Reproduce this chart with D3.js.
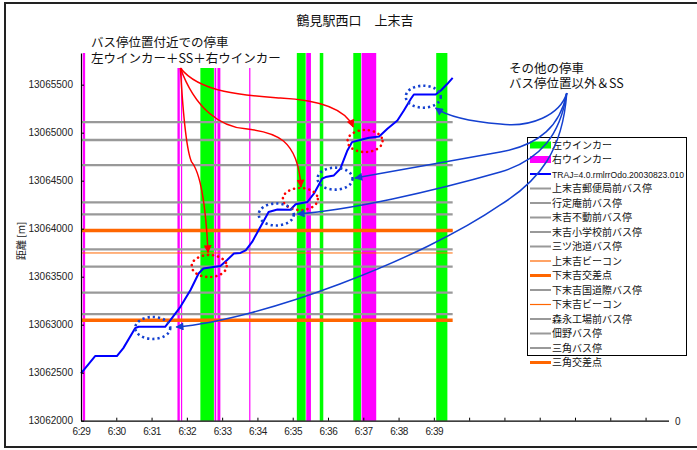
<!DOCTYPE html>
<html><head><meta charset="utf-8">
<script src="https://cdn.jsdelivr.net/npm/d3@7"></script>
<style>
html,body{margin:0;padding:0;background:#fff;}
svg text{font-family:"Liberation Sans",Arial,sans-serif;}
.jp{font-family:"Noto Sans CJK JP","Noto Sans",sans-serif;}
</style></head>
<body>
<svg id="c" width="697" height="450"></svg>
<script>
// ---------- data ----------
const title = "鶴見駅西口　上末吉";
const yAxisTitle = "距離 [m]";
const xTickLabels = ["6:29","6:30","6:31","6:32","6:33","6:34","6:35","6:36","6:37","6:38","6:39"];
const yTicks = [13062000,13062500,13063000,13063500,13064000,13064500,13065000,13065500];

// trajectory (time, distance)
const trajTime = ["6:29:00","6:29:24","6:30:01","6:30:12","6:30:32","6:30:38","6:31:23","6:31:32","6:31:49","6:32:06",
  "6:32:20","6:32:28","6:32:45","6:32:57","6:33:08","6:33:20","6:33:31","6:33:40","6:33:51","6:34:05",
  "6:34:19","6:34:34","6:34:56","6:35:05","6:35:25","6:35:36","6:35:50","6:35:56","6:36:10","6:36:21",
  "6:36:33","6:36:41","6:36:56","6:37:10","6:37:27","6:37:41","6:37:58","6:38:09","6:38:21","6:38:26",
  "6:39:03","6:39:12","6:39:23","6:39:32"];
const trajDist = [13062493,13062673,13062673,13062756,13062964,13062978,13062978,13063047,13063186,13063359,
  13063533,13063585,13063602,13063612,13063671,13063741,13063747,13063775,13063862,13064018,
  13064174,13064199,13064197,13064254,13064278,13064365,13064521,13064538,13064555,13064625,
  13064815,13064902,13064927,13064947,13064961,13065041,13065127,13065231,13065353,13065398,
  13065398,13065439,13065509,13065571];

// blinker intervals
const leftBlinkStart = ["6:32:23","6:35:07","6:35:46","6:36:43","6:39:04"];
const leftBlinkEnd   = ["6:32:46","6:35:22","6:35:52","6:36:56","6:39:23"];
const rightBlinkStart = ["6:29:03","6:31:44","6:31:50","6:32:47","6:32:52","6:33:46","6:35:23","6:36:57"];
const rightBlinkEnd   = ["6:29:07","6:31:48","6:31:52","6:32:50","6:32:57","6:33:48","6:35:31","6:37:22"];

// reference positions (bus stops, beacons, intersections)
const refNames = ["上末吉郵便局前バス停","行定庵前バス停","末吉不動前バス停","末吉小学校前バス停","三ツ池道バス停",
  "上末吉ビーコン","下末吉交差点","下末吉国道際バス停","下末吉ビーコン","森永工場前バス停","佃野バス停","三角バス停","三角交差点"];
const refDist = [13065111,13064924,13064663,13064275,13064150,13063984,13063981,13063785,13063747,13063604,13063335,13063111,13063046];
const refKind = ["stop","stop","stop","stop","stop","beacon","cross","stop","beacon","stop","stop","stop","cross"];

const seriesNames = ["左ウインカー","右ウインカー","TRAJ=4.0.rmlrrOdo.20030823.010"];

// annotations (time, distance)
const noteLeft = ["バス停位置付近での停車","左ウインカー＋SS＋右ウインカー"];
const noteRight = ["その他の停車","バス停位置以外＆SS"];
const redCircleT = ["6:32:38","6:35:13","6:37:03"];
const redCircleD = [13063611,13064309,13064913];
const blueCircleT = ["6:31:02","6:34:32","6:36:12","6:38:42"];
const blueCircleD = [13062966,13064148,13064521,13065375];

// ---------- setup ----------
const parse = d3.timeParse("%H:%M:%S");
const T = s => parse(s.length===7 ? "0"+s : s);
const svg = d3.select("#c");
const W = 697, H = 450;
const x = d3.scaleTime().domain([T("6:29:00"), T("6:45:39")]).range([81, 668.5]);
const y = d3.scaleLinear().domain([13062000, 13065830]).range([420.7, 53]);

const GREEN="#00ff00", MAGENTA="#ff00ff", BLUE="#0000ff", GRAY="#999999", ORANGE="#ff6600";
const ANN_BLUE="#1440d0", RED="#ff0000";

// outer border
svg.append("rect").attr("x",5).attr("y",3).attr("width",W+10).attr("height",444)
  .attr("fill","#fff").attr("stroke","#222").attr("stroke-width",2);

// title
svg.append("text").attr("class","jp").attr("x",355).attr("y",25).attr("text-anchor","middle")
  .attr("font-size",13).attr("fill","#111").text(title);

const plot = svg.append("g");

// blinker bars
const bars = [];
leftBlinkStart.forEach((s,i)=>bars.push({s:T(s),e:T(leftBlinkEnd[i]),c:GREEN}));
rightBlinkStart.forEach((s,i)=>bars.push({s:T(s),e:T(rightBlinkEnd[i]),c:MAGENTA}));
plot.selectAll("rect.bar").data(bars).join("rect").attr("class","bar")
  .attr("x",d=>x(d.s)).attr("width",d=>Math.max(1.2,x(d.e)-x(d.s)))
  .attr("y",y.range()[1]).attr("height",y.range()[0]-y.range()[1]).attr("fill",d=>d.c);

// reference lines
const refStyle = k => k==="stop" ? {c:GRAY,w:2.3} : k==="beacon" ? {c:ORANGE,w:1} : {c:ORANGE,w:3.5};
const tStart = T(trajTime[0]), tEnd = T(trajTime[trajTime.length-1]);
plot.selectAll("line.ref").data(refDist.map((d,i)=>({d,k:refKind[i]}))).join("line").attr("class","ref")
  .attr("x1",x(tStart)).attr("x2",x(tEnd)).attr("y1",d=>y(d.d)).attr("y2",d=>y(d.d))
  .attr("stroke",d=>refStyle(d.k).c).attr("stroke-width",d=>refStyle(d.k).w);

// axes
const xAxis = d3.axisBottom(x).ticks(d3.timeMinute.every(1)).tickSizeInner(-3).tickSizeOuter(0)
  .tickFormat((d,i)=> i < xTickLabels.length ? xTickLabels[i] : "");
const gx = svg.append("g").attr("transform",`translate(0,${y.range()[0]})`).call(xAxis);
gx.select(".domain").attr("stroke","#000").attr("stroke-width",1.2);
gx.selectAll(".tick line").attr("stroke","#000");
gx.selectAll(".tick text").attr("font-size",10).attr("fill","#222").attr("dy","0.85em").attr("y",6)
  .attr("letter-spacing","-0.4px");

const yAxis = d3.axisLeft(y).tickValues(yTicks).tickSizeInner(-3).tickSizeOuter(0).tickFormat(d3.format("d"));
const gy = svg.append("g").attr("transform",`translate(${x.range()[0]},0)`).call(yAxis);
gy.select(".domain").attr("stroke","#000").attr("stroke-width",1.2);
gy.selectAll(".tick line").attr("stroke","#000");
gy.selectAll(".tick text").attr("font-size",10).attr("fill","#222").attr("x",-8);

// right secondary axis label
svg.append("text").attr("x",675).attr("y",y.range()[0]+4).attr("font-size",10).attr("fill","#222").text("0");

// y axis title
svg.append("text").attr("class","jp").attr("transform",`translate(25,${(y.range()[0]+y.range()[1])/2+4}) rotate(-90)`)
  .attr("text-anchor","middle").attr("font-size",10).attr("fill","#222").text(yAxisTitle);

// trajectory
const traj = trajTime.map((t,i)=>({t:T(t),d:trajDist[i]}));
plot.append("path").datum(traj).attr("fill","none").attr("stroke",BLUE).attr("stroke-width",2)
  .attr("stroke-linejoin","round")
  .attr("d",d3.line().x(d=>x(d.t)).y(d=>y(d.d)));

// ---------- legend ----------
const leg = svg.append("g");
const items = [
  {n:seriesNames[0],type:"rect",c:GREEN},
  {n:seriesNames[1],type:"rect",c:MAGENTA},
  {n:seriesNames[2],type:"line",c:BLUE,w:2}
].concat(refNames.map((n,i)=>({n,type:"line",c:refStyle(refKind[i]).c,w:refKind[i]==="stop"?2:refKind[i]==="beacon"?1.2:3})));
leg.append("rect").attr("x",527.5).attr("y",137.5).attr("width",159).attr("height",218)
  .attr("fill","#fff").attr("stroke","#000").attr("stroke-width",1);
items.forEach((it,i)=>{
  const cy = 145 + i*14.5;
  if(it.type==="rect") leg.append("rect").attr("x",530).attr("y",cy-3.5).attr("width",21).attr("height",7).attr("fill",it.c);
  else leg.append("line").attr("x1",530).attr("x2",551).attr("y1",cy).attr("y2",cy).attr("stroke",it.c).attr("stroke-width",it.w);
  const tx = leg.append("text").attr("class", i===2 ? null : "jp").attr("x",552).attr("y",cy+3.6)
    .attr("font-size",i===2?9.5:10).attr("fill","#111").text(it.n);
  if(i===2) tx.attr("textLength",132).attr("lengthAdjust","spacingAndGlyphs");
});

// ---------- annotations ----------
const defs = svg.append("defs");
function marker(id,color){
  defs.append("marker").attr("id",id).attr("viewBox","0 0 10 10").attr("refX",9).attr("refY",5)
    .attr("markerWidth",10).attr("markerHeight",8).attr("markerUnits","userSpaceOnUse").attr("orient","auto")
    .append("path").attr("d","M0,0 L10,5 L0,10 z").attr("fill",color);
}
marker("arR",RED); marker("arB",ANN_BLUE);

const ann = svg.append("g");
// white text box of the left note (covers the top of the bars)
ann.append("rect").attr("x",87).attr("y",32).attr("width",188).attr("height",36).attr("fill","#fff");

// dotted circles
redCircleT.forEach((t,i)=>{
  ann.append("ellipse").attr("cx",x(T(t))).attr("cy",y(redCircleD[i])).attr("rx",17.5).attr("ry",11)
    .attr("fill","none").attr("stroke",RED).attr("stroke-width",2.6).attr("stroke-dasharray","0.1 5")
    .attr("stroke-linecap","round");
});
blueCircleT.forEach((t,i)=>{
  ann.append("ellipse").attr("cx",x(T(t))).attr("cy",y(blueCircleD[i])).attr("rx",17.5).attr("ry",11)
    .attr("fill","none").attr("stroke",ANN_BLUE).attr("stroke-width",2.6).attr("stroke-dasharray","2.2 3")
    .attr("stroke-linecap","butt");
});

// arrow paths defined in data coords: [time, dist] points
const P = (t,d) => [x(T(t)), y(d)];
function bez(pts){
  const q = pts.map(p=>P(p[0],p[1]));
  let s = `M${q[0]}`;
  for(let i=1;i<q.length;i+=3) s += ` C${q[i]} ${q[i+1]} ${q[i+2]}`;
  return s;
}
const redArrows = [
  [["6:31:49",13065674],["6:31:53",13065248],["6:31:58",13064831],["6:32:08",13064696],
   ["6:32:22",13064592],["6:32:32",13064258],["6:32:36",13063753]],
  [["6:31:49",13065674],["6:32:14",13065248],["6:32:57",13065060],["6:33:40",13065040],
   ["6:34:31",13065008],["6:35:09",13064935],["6:35:14",13064435]],
  [["6:31:49",13065674],["6:32:23",13065404],["6:33:48",13065383],["6:34:39",13065362],
   ["6:35:47",13065341],["6:36:30",13065248],["6:36:43",13065060]]
];
redArrows.forEach(a=>ann.append("path").attr("d",bez(a)).attr("fill","none").attr("stroke",RED)
  .attr("stroke-width",1.5).attr("marker-end","url(#arR)"));

const blueArrows = [
  [["6:42:46",13065413],["6:42:35",13065184],["6:41:44",13065049],["6:40:53",13065090],
   ["6:39:54",13065122],["6:39:20",13065184],["6:39:03",13065257]],
  [["6:42:46",13065413],["6:42:35",13065080],["6:42:01",13064872],["6:40:53",13064799],
   ["6:39:11",13064684],["6:37:46",13064590],["6:36:46",13064528]],
  [["6:42:46",13065413],["6:42:35",13064976],["6:42:01",13064715],["6:40:53",13064590],
   ["6:38:54",13064382],["6:36:38",13064195],["6:35:08",13064153]],
  [["6:42:46",13065413],["6:42:39",13064820],["6:42:01",13064507],["6:40:53",13064247],
   ["6:38:37",13063674],["6:34:05",13063049],["6:31:42",13062976]]
];
blueArrows.forEach(a=>ann.append("path").attr("d",bez(a)).attr("fill","none").attr("stroke",ANN_BLUE)
  .attr("stroke-width",1.5).attr("marker-end","url(#arB)"));

// notes
noteLeft.forEach((t,i)=>svg.append("text").attr("class","jp").attr("x",91).attr("y",47+i*16)
  .attr("font-size",12.5).attr("fill","#111").text(t));
noteRight.forEach((t,i)=>svg.append("text").attr("class","jp").attr("x",509).attr("y",73+i*15)
  .attr("font-size",12.5).attr("fill","#111").text(t));
</script>
</body></html>
